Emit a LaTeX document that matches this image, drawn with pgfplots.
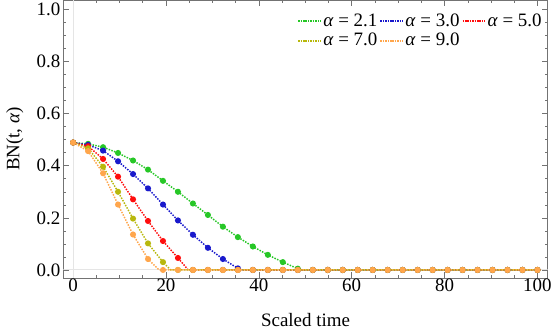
\documentclass[border=0pt]{standalone}
\usepackage{fontspec}
\setmainfont{Liberation Serif}
\usepackage{pgfplots}
\pgfplotsset{compat=1.18}
\definecolor{cgreen}{rgb}{0.15,0.78,0.15}
\definecolor{cblue}{rgb}{0.1,0.1,0.8}
\definecolor{cred}{rgb}{1.0,0.05,0.05}
\definecolor{colive}{rgb}{0.72,0.72,0.05}
\definecolor{corange}{rgb}{1.0,0.65,0.3}
\definecolor{frame}{rgb}{0.45,0.45,0.45}

\begin{document}
\fontsize{14.2}{17}\selectfont
\begin{tikzpicture}
\begin{axis}[
    scale only axis,
    width=363pt, height=208pt,
    xmin=-2.1, xmax=102.2, ymin=-0.03, ymax=1.035,
    xtick={0,20,40,60,80,100},
    ytick={0,0.2,0.4,0.6,0.8,1.0},
    minor x tick num=3, minor y tick num=3,
    tick align=inside,
    major tick length=4pt, minor tick length=2.2pt,
    axis line style={frame},
    every tick/.style={frame},
    /pgf/number format/assume math mode=true,
    yticklabel style={inner sep=2pt, /pgf/number format/.cd, fixed, fixed zerofill, precision=1},
    xticklabel style={inner sep=1pt},
    xlabel={Scaled time}, ylabel={BN(t, \textit{α})},
    xlabel style={yshift=-10pt},
    ylabel style={yshift=3pt},
    legend columns=3,
    legend style={at={(0.995,0.965)}, anchor=north east, draw=none, fill=none,
        inner sep=1pt, nodes={inner sep=1.5pt}},
    legend cell align=left,
    legend image code/.code={\draw[#1, line width=1.5pt, dash pattern=on 1.2pt off 0.6pt] (0cm,0cm) -- (0.58cm,0cm);},
    every axis plot/.append style={line width=1.1pt, densely dotted},
]
% light axes through the origin
\addplot[gray!20, solid, line width=0.8pt, forget plot] coordinates {(0,-0.03) (0,1.035)};
\addplot[gray!20, solid, line width=0.8pt, forget plot] coordinates {(-2.1,0) (102.2,0)};

% alpha = 2.1
\addplot[cgreen] coordinates {(0,0.489) (3.226,0.484) (6.452,0.471) (9.677,0.449) (12.903,0.420)
  (16.129,0.385) (19.355,0.342) (22.581,0.300) (25.806,0.255) (29.032,0.211) (32.258,0.166)
  (35.484,0.126) (38.710,0.090) (41.935,0.058) (45.161,0.030) (48.387,0.005) (49.3,0) (100,0)};
\addlegendentry{\textit{α} = 2.1}
\addplot[cgreen, only marks, solid, mark=*, mark size=1.7pt, forget plot] coordinates {
  (0,0.489) (3.226,0.484) (6.452,0.471) (9.677,0.449) (12.903,0.420) (16.129,0.385)
  (19.355,0.342) (22.581,0.300) (25.806,0.255) (29.032,0.211) (32.258,0.166) (35.484,0.126)
  (38.710,0.090) (41.935,0.058) (45.161,0.030) (48.387,0.005) (51.613,0) (54.839,0)
  (58.065,0) (61.290,0) (64.516,0) (67.742,0) (70.968,0) (74.194,0) (77.419,0) (80.645,0)
  (83.871,0) (87.097,0) (90.323,0) (93.548,0) (96.774,0) (100,0)};

% alpha = 3.0
\addplot[cblue] coordinates {(0,0.489) (3.226,0.480) (6.452,0.458) (9.677,0.417) (12.903,0.368)
  (16.129,0.313) (19.355,0.251) (22.581,0.190) (25.806,0.135) (29.032,0.085) (32.258,0.042)
  (35.484,0.006) (36.3,0) (100,0)};
\addlegendentry{\textit{α} = 3.0}
\addplot[cblue, only marks, solid, mark=*, mark size=1.7pt, forget plot] coordinates {
  (0,0.489) (3.226,0.480) (6.452,0.458) (9.677,0.417) (12.903,0.368) (16.129,0.313)
  (19.355,0.251) (22.581,0.190) (25.806,0.135) (29.032,0.085) (32.258,0.042) (35.484,0.006)
  (38.710,0) (41.935,0) (45.161,0) (48.387,0) (51.613,0) (54.839,0)
  (58.065,0) (61.290,0) (64.516,0) (67.742,0) (70.968,0) (74.194,0) (77.419,0) (80.645,0)
  (83.871,0) (87.097,0) (90.323,0) (93.548,0) (96.774,0) (100,0)};

% alpha = 5.0
\addplot[cred] coordinates {(0,0.489) (3.226,0.475) (6.452,0.426) (9.677,0.358) (12.903,0.271)
  (16.129,0.188) (19.355,0.111) (22.581,0.046) (24.8,0) (100,0)};
\addlegendentry{\textit{α} = 5.0}
\addplot[cred, only marks, solid, mark=*, mark size=1.7pt, forget plot] coordinates {
  (0,0.489) (3.226,0.475) (6.452,0.426) (9.677,0.358) (12.903,0.271) (16.129,0.188)
  (19.355,0.111) (22.581,0.046) (25.806,0) (29.032,0) (32.258,0) (35.484,0)
  (38.710,0) (41.935,0) (45.161,0) (48.387,0) (51.613,0) (54.839,0)
  (58.065,0) (61.290,0) (64.516,0) (67.742,0) (70.968,0) (74.194,0) (77.419,0) (80.645,0)
  (83.871,0) (87.097,0) (90.323,0) (93.548,0) (96.774,0) (100,0)};

% alpha = 7.0
\addplot[colive] coordinates {(0,0.489) (3.226,0.467) (6.452,0.396) (9.677,0.300) (12.903,0.197)
  (16.129,0.102) (19.355,0.030) (21.0,0) (100,0)};
\addlegendentry{\textit{α} = 7.0}
\addplot[colive, only marks, solid, mark=*, mark size=1.7pt, forget plot] coordinates {
  (0,0.489) (3.226,0.467) (6.452,0.396) (9.677,0.300) (12.903,0.197) (16.129,0.102)
  (19.355,0.030) (22.581,0) (25.806,0) (29.032,0) (32.258,0) (35.484,0)
  (38.710,0) (41.935,0) (45.161,0) (48.387,0) (51.613,0) (54.839,0)
  (58.065,0) (61.290,0) (64.516,0) (67.742,0) (70.968,0) (74.194,0) (77.419,0) (80.645,0)
  (83.871,0) (87.097,0) (90.323,0) (93.548,0) (96.774,0) (100,0)};

% alpha = 9.0
\addplot[corange] coordinates {(0,0.489) (3.226,0.456) (6.452,0.371) (9.677,0.251) (12.903,0.136)
  (16.129,0.042) (18.5,0) (100,0)};
\addlegendentry{\textit{α} = 9.0}
\addplot[corange, only marks, solid, mark=*, mark size=1.7pt, forget plot] coordinates {
  (0,0.489) (3.226,0.456) (6.452,0.371) (9.677,0.251) (12.903,0.136) (16.129,0.042)
  (19.355,0) (22.581,0) (25.806,0) (29.032,0) (32.258,0) (35.484,0)
  (38.710,0) (41.935,0) (45.161,0) (48.387,0) (51.613,0) (54.839,0)
  (58.065,0) (61.290,0) (64.516,0) (67.742,0) (70.968,0) (74.194,0) (77.419,0) (80.645,0)
  (83.871,0) (87.097,0) (90.323,0) (93.548,0) (96.774,0) (100,0)};
\end{axis}
\end{tikzpicture}
\end{document}
